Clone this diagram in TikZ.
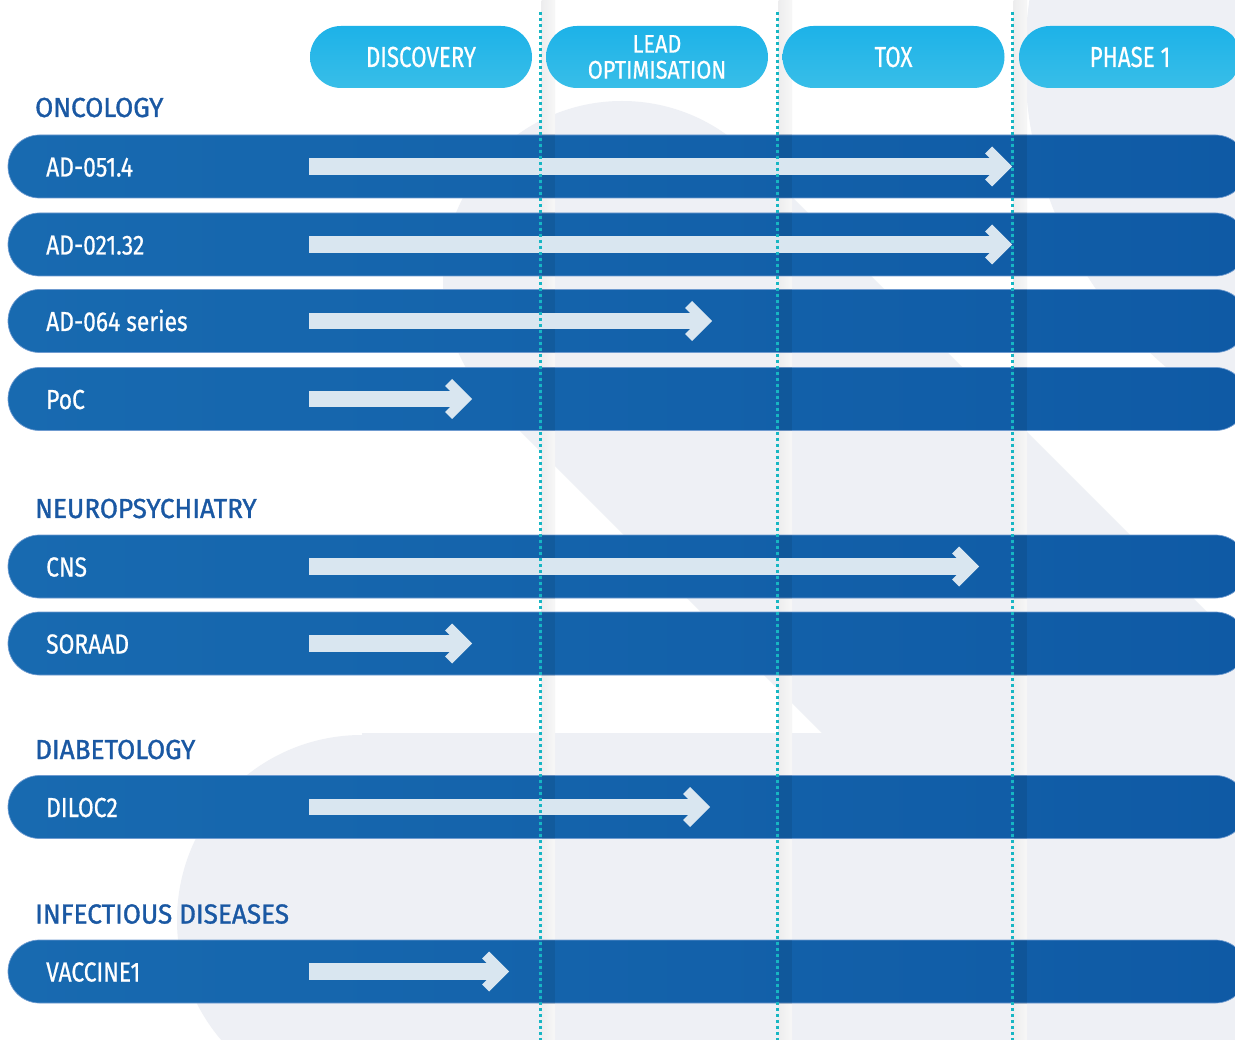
\documentclass[tikz,border=0pt]{standalone}
\usepackage{fontspec}
\setmainfont[FakeStretch=0.83, FakeBold=0.6]{Fira Sans}
\newfontfamily\catfont[FakeStretch=0.95, FakeBold=1.2]{Fira Sans}
\newfontfamily\headfont[FakeStretch=0.77, FakeBold=0.5]{Fira Sans}
\newfontfamily\headtwofont[FakeStretch=0.85, FakeBold=0.5]{Fira Sans}
\definecolor{bgGrey}{HTML}{EEF0F5}
\definecolor{catBlue}{HTML}{1A58A3}
\definecolor{barL}{HTML}{186AB0}
\definecolor{barR}{HTML}{0F5AA5}
\definecolor{barEdge}{HTML}{6F9BD0}
\definecolor{arrowC}{HTML}{D9E6F0}
\definecolor{pillTop}{HTML}{1DB2E8}
\definecolor{pillBot}{HTML}{38BEE8}
\definecolor{dotC}{HTML}{17B6C3}
\definecolor{stripL}{HTML}{EDEDEE}
\definecolor{stripR}{HTML}{F7F7F7}
\tikzset{
  pill/.style={rectangle, rounded corners=31pt, minimum width=222pt, minimum height=62pt,
    top color=pillTop, bottom color=pillBot, text=white, inner sep=0pt, align=center,
    font=\headfont\fontsize{29}{26}\selectfont},
  pilltwo/.style={pill, font=\headtwofont\fontsize{25.5}{26}\selectfont},
  barbox/.style={rectangle, rounded corners=31.5pt, minimum width=1239pt, minimum height=63pt,
    left color=barL, right color=barR, draw=barEdge, line width=0.7pt, inner sep=0pt},
  rowlabel/.style={anchor=base west, text=white, inner sep=0pt, font=\fontsize{27.5}{30}\selectfont},
  catlabel/.style={anchor=base west, text=catBlue, inner sep=0pt, font=\catfont\fontsize{27.5}{30}\selectfont},
  greyshape/.style={fill=bgGrey},
  dotline/.style={draw=dotC, line width=3pt, dash pattern=on 3pt off 3pt},
  stripbox/.style={left color=stripL, right color=stripR},
  stripshade/.style={fill=black, opacity=0.08},
  pipe/.style={fill=arrowC}
}
\newcommand{\pipearrow}[2]{%
  \fill[pipe] (309,#1-8.25) rectangle (#2-14,#1+8.25);
  \fill[pipe] (#2,#1) -- ++(-20,-20) -- ++(-7,7) -- ++(13,13) -- ++(-13,13) -- ++(7,7) -- cycle;}
\begin{document}
\begin{tikzpicture}[x=1pt,y=-1pt]
\useasboundingbox (0,0) rectangle (1235,1040);
\begin{scope}
\clip (0,0) rectangle (1235,1040);
\fill[white] (0,0) rectangle (1235,1040);
% background logo shapes
\fill[greyshape] (622,280) circle (179);
\fill[greyshape] (495.4,406.6) -- (748.6,153.4) -- (1548.6,953.4) -- (1295.4,1206.6) -- cycle;
\fill[greyshape] (362,920) circle (185);
\fill[greyshape] (362,733) rectangle (1300,1100);
\fill[greyshape] (1430,60) circle (405);
% column strips
\foreach \d in {540,777,1012} {
  \fill[stripbox] (\d+1.5,0) rectangle (\d+15,1040);
}
% header pills
\node[pill] (h1) at (421,57) {DISCOVERY};
\node[pilltwo] (h2) at (657,57) {LEAD\\OPTIMISATION};
\node[pill] (h3) at (893.5,57) {TOX};
\node[pill] (h4) at (1130,57) {PHASE 1};
% bars
\node[barbox] (b1) at (627.5,166.5) {};
\node[barbox] (b2) at (627.5,244.5) {};
\node[barbox] (b3) at (627.5,321) {};
\node[barbox] (b4) at (627.5,399) {};
\node[barbox] (b5) at (627.5,566.5) {};
\node[barbox] (b6) at (627.5,643.5) {};
\node[barbox] (b7) at (627.5,807) {};
\node[barbox] (b8) at (627.5,971.5) {};
\foreach \c in {166.5,244.5,321,399,566.5,643.5,807,971.5} {
  \foreach \d in {540,777,1012} {
    \fill[stripshade] (\d+1.5,\c-32) rectangle (\d+15,\c+32);
  }
}
% arrows
\pipearrow{166.5}{1012}
\pipearrow{244.5}{1012}
\pipearrow{321}{712}
\pipearrow{399}{472}
\pipearrow{566.5}{979}
\pipearrow{643.5}{472}
\pipearrow{807}{710}
\pipearrow{971.5}{509}
% labels
\node[catlabel] (c1) at (35,117) {ONCOLOGY};
\node[catlabel] (c2) at (35,518) {NEUROPSYCHIATRY};
\node[catlabel] (c3) at (35,759) {DIABETOLOGY};
\node[catlabel] (c4) at (35,923.5) {INFECTIOUS DISEASES};
\node[rowlabel] (l1) at (46,176.5) {AD-051.4};
\node[rowlabel] (l2) at (46,254.5) {AD-021.32};
\node[rowlabel] (l3) at (46,331) {AD-064 series};
\node[rowlabel] (l4) at (46,409) {PoC};
\node[rowlabel] (l5) at (46,576.5) {CNS};
\node[rowlabel] (l6) at (46,653.5) {SORAAD};
\node[rowlabel] (l7) at (46,817) {DILOC2};
\node[rowlabel] (l8) at (46,981.5) {VACCINE1};
% dotted column lines
\foreach \d/\n in {540/a,777/b,1012/c} {
  \coordinate (top\n) at (\d,12);
  \coordinate (bot\n) at (\d,1040);
  \draw[dotline] (top\n) -- (bot\n);
}
\end{scope}
\end{tikzpicture}
\end{document}
